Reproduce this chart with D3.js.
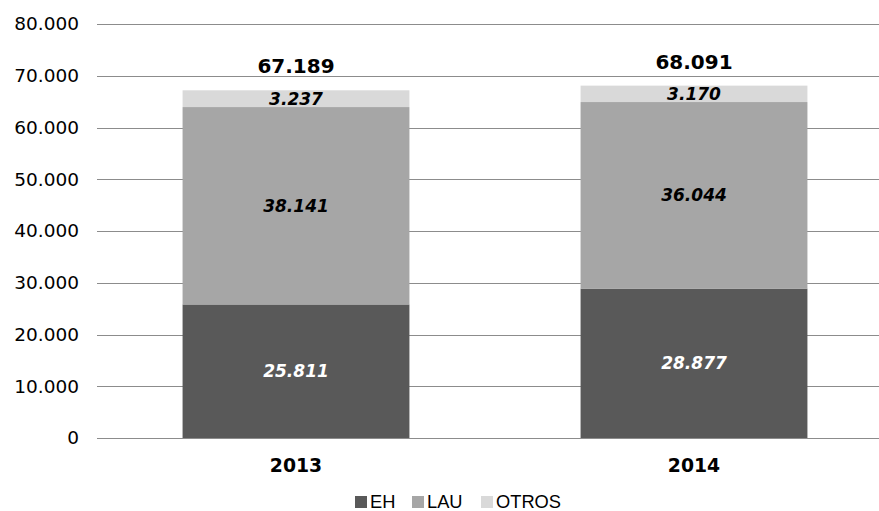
<!DOCTYPE html>
<html>
<head>
<meta charset="utf-8">
<script src="https://cdn.jsdelivr.net/npm/d3@7"></script>
<style>
  html, body { margin: 0; padding: 0; background: #fff; }
  svg { display: block; }
</style>
</head>
<body>
<svg id="chart" width="879" height="511"></svg>
<script>
const categories = ["2013", "2014"];
const seriesNames = ["EH", "LAU", "OTROS"];
const EH = [25811, 28877];
const LAU = [38141, 36044];
const OTROS = [3237, 3170];
const yTicks = [0, 10000, 20000, 30000, 40000, 50000, 60000, 70000, 80000];
const colors = ["#595959", "#a6a6a6", "#d9d9d9"];
const labelColors = ["#ffffff", "#000000", "#000000"];

const rows = categories.map((c, i) => ({ cat: c, EH: EH[i], LAU: LAU[i], OTROS: OTROS[i] }));
const fmt = v => d3.format(",")(v).replace(/,/g, ".");

const svg = d3.select("#chart");
const margin = { left: 97, right: -14, top: 24, bottom: 73 };
const W = 879, H = 511;

const x = d3.scaleBand().domain(categories).range([margin.left, W - margin.right]).paddingInner(0.43).paddingOuter(0.215);
const y = d3.scaleLinear().domain([0, 80000]).range([H - margin.bottom, margin.top]);

// gridlines
svg.append("g").selectAll("line").data(yTicks).join("line")
  .attr("x1", margin.left).attr("x2", W)
  .attr("y1", d => Math.round(y(d)) + 0.5).attr("y2", d => Math.round(y(d)) + 0.5)
  .attr("stroke", "#8c8c8c").attr("stroke-width", 1);

// y axis labels
const yAxis = d3.axisLeft(y).tickValues(yTicks).tickFormat(fmt).tickSize(0).tickPadding(0);
const gy = svg.append("g").attr("transform", `translate(79,0)`).call(yAxis);
gy.select(".domain").remove();
gy.selectAll("text").attr("font-family", "DejaVu Sans, Verdana, sans-serif").attr("font-size", "18.5px").attr("fill", "#000");

// stacked bars
const stack = d3.stack().keys(seriesNames)(rows);
const layers = svg.append("g").selectAll("g").data(stack).join("g").attr("fill", (d, i) => colors[i]);
layers.selectAll("rect").data(d => d).join("rect")
  .attr("x", d => x(d.data.cat))
  .attr("width", x.bandwidth())
  .attr("y", d => y(d[1]))
  .attr("height", d => y(d[0]) - y(d[1]));

// segment labels
stack.forEach((layer, li) => {
  svg.append("g").selectAll("text").data(layer).join("text")
    .attr("x", d => x(d.data.cat) + x.bandwidth() / 2)
    .attr("y", d => (y(d[0]) + y(d[1])) / 2)
    .attr("dy", "0.36em")
    .attr("text-anchor", "middle")
    .attr("font-family", "DejaVu Sans, Verdana, sans-serif")
    .attr("font-size", "17px").attr("font-weight", "bold").attr("font-style", "italic")
    .attr("fill", labelColors[li])
    .text(d => fmt(d[1] - d[0]));
});

// totals
svg.append("g").selectAll("text").data(rows).join("text")
  .attr("x", d => x(d.cat) + x.bandwidth() / 2)
  .attr("y", d => y(d.EH + d.LAU + d.OTROS) - 17)
  .attr("text-anchor", "middle")
  .attr("font-family", "DejaVu Sans, Verdana, sans-serif")
  .attr("font-size", "20px").attr("font-weight", "bold").attr("fill", "#000")
  .text(d => fmt(d.EH + d.LAU + d.OTROS));

// x axis
const xAxis = d3.axisBottom(x).tickSize(0).tickPadding(0);
const gx = svg.append("g").attr("transform", `translate(0,472)`).call(xAxis);
gx.select(".domain").remove();
gx.selectAll("text").attr("dy", 0).attr("font-family", "DejaVu Sans, Verdana, sans-serif")
  .attr("font-size", "18.8px").attr("font-weight", "bold").attr("fill", "#000");

// legend
const legendItems = [
  { name: "EH", mx: 355, tx: 370 },
  { name: "LAU", mx: 412, tx: 427 },
  { name: "OTROS", mx: 481, tx: 496 }
];
const lg = svg.append("g");
legendItems.forEach((it, i) => {
  lg.append("rect").attr("x", it.mx).attr("y", 496).attr("width", 12).attr("height", 12).attr("fill", colors[i]);
  lg.append("text").attr("x", it.tx).attr("y", 508)
    .attr("font-family", "Liberation Sans, Arial, sans-serif").attr("font-size", "18.3px").attr("fill", "#000")
    .text(it.name);
});
</script>
</body>
</html>
